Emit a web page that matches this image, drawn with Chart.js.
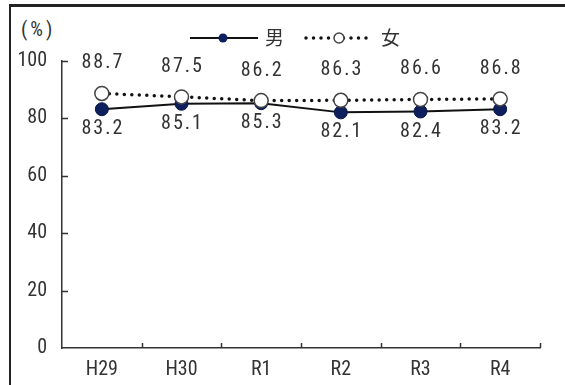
<!DOCTYPE html>
<html>
<head>
<meta charset="utf-8">
<script src="https://cdn.jsdelivr.net/npm/chart.js@4"></script>
<style>
html, body { margin: 0; padding: 0; background: #fff; }
#wrap { position: relative; width: 565px; height: 385px; overflow: hidden; }
#frame { position: absolute; left: 9px; top: 4px; width: 600px; height: 420px;
  border-left: 2.5px solid #222; border-top: 3px solid #222; }
#unit { position: absolute; left: 21px; top: 17px; font: 20px "Roboto Condensed", sans-serif;
  letter-spacing: 3px; color: #333; }
#c { position: absolute; left: 0; top: 0; }
</style>
</head>
<body>
<div id="wrap">
  <div id="frame"></div>
  <div id="unit">(%)</div>
  <canvas id="c" width="565" height="385"></canvas>
</div>
<script>
// 年度
var years = ['H29', 'H30', 'R1', 'R2', 'R3', 'R4'];
// 男 / 女 (%)
var male = [83.2, 85.1, 85.3, 82.1, 82.4, 83.2];
var female = [88.7, 87.5, 86.2, 86.3, 86.6, 86.8];
var yMin = 0, yMax = 100, yStep = 20;

var FONT = '"Roboto Condensed", "DejaVu Sans Condensed", sans-serif';
var INK = '#333';
var NAVY = '#0d1f5c';

// inside tick marks, drawn from the scales
var innerTicks = {
  id: 'innerTicks',
  afterDraw: function (chart) {
    var ctx = chart.ctx, xs = chart.scales.x, ys = chart.scales.y, a = chart.chartArea;
    ctx.save();
    ctx.strokeStyle = INK;
    ctx.lineWidth = 1.5;
    ctx.beginPath();
    ys.ticks.forEach(function (t) {
      if (t.value === yMin) return;
      var py = Math.round(ys.getPixelForValue(t.value)) + 0.5;
      ctx.moveTo(a.left, py);
      ctx.lineTo(a.left + 6, py);
    });
    var half = (xs.getPixelForValue(1) - xs.getPixelForValue(0)) / 2;
    for (var i = 0; i < years.length; i++) {
      var px = Math.round(xs.getPixelForValue(i) + half) + 0.5;
      ctx.moveTo(px, a.bottom);
      ctx.lineTo(px, a.bottom - 5);
    }
    ctx.stroke();
    ctx.restore();
  }
};

// value labels: 女 above, 男 below
var valueLabels = {
  id: 'valueLabels',
  afterDatasetsDraw: function (chart) {
    var ctx = chart.ctx;
    ctx.save();
    ctx.font = '20px ' + FONT;
    ctx.fillStyle = INK;
    ctx.textAlign = 'center';
    ctx.textBaseline = 'middle';
    ctx.letterSpacing = '2px';
    chart.data.datasets.forEach(function (ds, di) {
      var meta = chart.getDatasetMeta(di);
      var dy = ds.label === '女' ? -30 : 20;
      meta.data.forEach(function (pt, i) {
        ctx.fillText(ds.data[i].toFixed(1), pt.x + 1, pt.y + dy);
      });
    });
    ctx.restore();
  }
};

// legend: line + marker, then the name
var lineLegend = {
  id: 'lineLegend',
  afterDraw: function (chart) {
    var ctx = chart.ctx, y = 38;
    ctx.save();
    // 男
    ctx.strokeStyle = '#111';
    ctx.lineWidth = 2;
    ctx.beginPath(); ctx.moveTo(190, y); ctx.lineTo(258, y); ctx.stroke();
    ctx.fillStyle = NAVY;
    ctx.beginPath(); ctx.arc(223, y, 4.5, 0, Math.PI * 2); ctx.fill();
    // 女
    ctx.lineWidth = 3.5;
    ctx.lineCap = 'round';
    ctx.setLineDash([0, 7.5]);
    ctx.beginPath(); ctx.moveTo(306, y); ctx.lineTo(373, y); ctx.stroke();
    ctx.setLineDash([]);
    ctx.fillStyle = '#fff';
    ctx.strokeStyle = '#444';
    ctx.lineWidth = 1.5;
    ctx.beginPath(); ctx.arc(339, y, 5, 0, Math.PI * 2); ctx.fill(); ctx.stroke();
    ctx.fillStyle = INK;
    ctx.font = '19px "Noto Sans CJK JP", sans-serif';
    ctx.textBaseline = 'middle';
    ctx.fillText('男', 265, y);
    ctx.fillText('女', 381, y);
    ctx.restore();
  }
};

new Chart(document.getElementById('c'), {
  type: 'line',
  data: {
    labels: years,
    datasets: [
      {
        label: '女',
        data: female,
        order: 0,
        borderColor: '#111',
        borderWidth: 3.5,
        borderDash: [0, 7.5],
        borderCapStyle: 'round',
        tension: 0,
        pointRadius: 7,
        pointBackgroundColor: '#fff',
        pointBorderColor: '#444',
        pointBorderWidth: 1.5
      },
      {
        label: '男',
        data: male,
        order: 1,
        borderColor: '#111',
        borderWidth: 2,
        tension: 0,
        pointRadius: 6.5,
        pointBackgroundColor: NAVY,
        pointBorderColor: '#0a1845',
        pointBorderWidth: 1
      }
    ]
  },
  options: {
    responsive: false,
    animation: false,
    devicePixelRatio: 1,
    layout: { padding: { left: 0, right: 25, top: 61, bottom: 0 } },
    plugins: { legend: { display: false }, tooltip: { enabled: false } },
    scales: {
      x: {
        offset: true,
        grid: { display: false, drawTicks: false },
        border: { color: INK, width: 1.5 },
        ticks: { padding: 10, color: INK, font: { family: FONT, size: 20 } },
        afterFit: function (s) { s.height = 37; }
      },
      y: {
        min: yMin,
        max: yMax,
        grid: { display: false, drawTicks: false },
        border: { color: INK, width: 1.5 },
        ticks: { stepSize: yStep, padding: 15, color: INK, font: { family: FONT, size: 20 } },
        afterFit: function (s) { s.width = 62; }
      }
    }
  },
  plugins: [innerTicks, valueLabels, lineLegend]
});
</script>
</body>
</html>
